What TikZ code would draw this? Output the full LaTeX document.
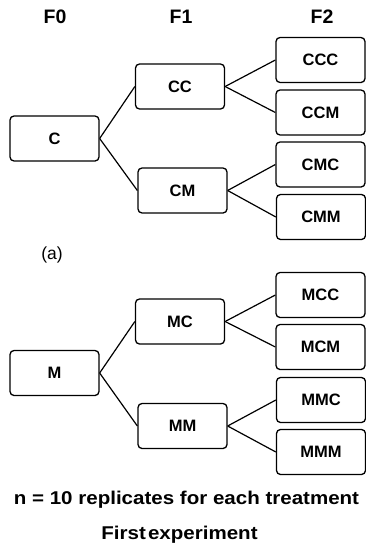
\documentclass[tikz,border=0pt]{standalone}
\usepackage{fontspec}
\setmainfont{Liberation Sans}
\newfontfamily\widesans[FakeStretch=1.11]{Liberation Sans}
\begin{document}
\begin{tikzpicture}[x=1pt,y=-1pt,
  box/.style={draw,line width=1.3pt,rounded corners=4pt,minimum width=89pt,minimum height=45pt,inner sep=0pt,font=\fontsize{16.5}{18}\selectfont\bfseries},
  hdr/.style={font=\fontsize{19.5}{21}\selectfont\bfseries,inner sep=0pt},
  foot/.style={font=\widesans\fontsize{18.5}{20}\selectfont\bfseries,inner sep=0pt},
  link/.style={line width=1.2pt}]
\useasboundingbox (0,0) rectangle (366,552);
\node[hdr] (f0) at (55,17) {F0};
\node[hdr] (f1) at (181,17) {F1};
\node[hdr] (f2) at (322,17) {F2};
% upper tree
\node[box] (c) at (54.5,138.5) {C};
\node[box] (cc) at (180,86.5) {CC};
\node[box] (cm) at (182.5,190.5) {CM};
\node[box] (ccc) at (320.5,60) {CCC};
\node[box] (ccm) at (320.5,112.5) {CCM};
\node[box] (cmc) at (320.5,164.5) {CMC};
\node[box] (cmm) at (321,217) {CMM};
\node[font=\fontsize{17.5}{19}\selectfont,inner sep=0pt] (a) at (52,255) {(a)};
% lower tree
\node[box] (m) at (54.5,373) {M};
\node[box] (mc) at (180,321.5) {MC};
\node[box] (mm) at (182.5,426) {MM};
\node[box] (mcc) at (320.5,295) {MCC};
\node[box] (mcm) at (320.5,347) {MCM};
\node[box] (mmc) at (321,400) {MMC};
\node[box] (mmm) at (321,452) {MMM};
\foreach \p/\q in {c/cc,c/cm,cc/ccc,cc/ccm,cm/cmc,cm/cmm,m/mc,m/mm,mc/mcc,mc/mcm,mm/mmc,mm/mmm}
  \draw[link] (\p.east) -- (\q.west);
\node[foot] (n) at (186.5,500) {n = 10 replicates for each treatment};
\node[foot] (fe) at (179.5,535) {First\hspace{0.12em}experiment};
\end{tikzpicture}
\end{document}
